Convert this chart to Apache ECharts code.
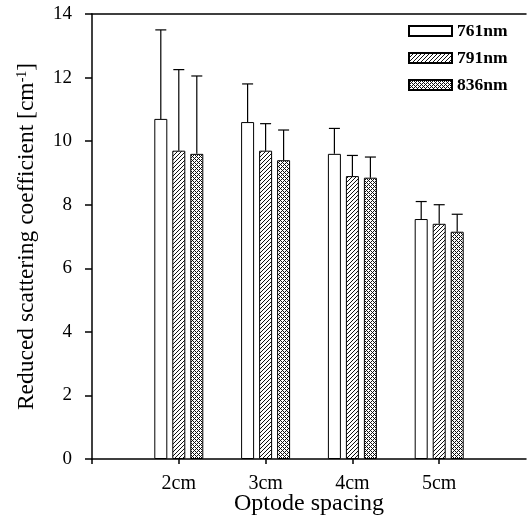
<!DOCTYPE html>
<html>
<head>
<meta charset="utf-8">
<script src="https://cdn.jsdelivr.net/npm/echarts@6/dist/echarts.min.js"></script>
<style>
  html, body { margin: 0; padding: 0; background: #fff; }
  #main { width: 529px; height: 527px; }
</style>
</head>
<body>
<div id="main"></div>
<script>
// categories (empty slots pad the axis on both sides)
let categories = ['', '2cm', '3cm', '4cm', '5cm', ''];
let seriesNames = ['761nm', '791nm', '836nm'];

// mean values per optode spacing
let mean761 = [10.7, 10.6, 9.6, 7.55];
let mean791 = [9.7, 9.7, 8.9, 7.4];
let mean836 = [9.6, 9.4, 8.85, 7.15];

// standard deviation (upper error bar)
let sd761 = [2.8, 1.2, 0.8, 0.55];
let sd791 = [2.55, 0.85, 0.65, 0.6];
let sd836 = [2.45, 0.95, 0.65, 0.55];

let yTicks = [0, 2, 4, 6, 8, 10, 12, 14];

let FONT = '"Liberation Serif", "Times New Roman", serif';

// 填充图案
function makePattern(size, fn) {
    let c = document.createElement('canvas');
    c.width = size; c.height = size;
    let ctx = c.getContext('2d');
    ctx.fillStyle = '#fff';
    ctx.fillRect(0, 0, size, size);
    ctx.fillStyle = '#111';
    for (let x = 0; x < size; x++) {
        for (let y = 0; y < size; y++) {
            if (fn(x, y)) ctx.fillRect(x, y, 1, 1);
        }
    }
    return { image: c, repeat: 'repeat' };
}
let hatch = makePattern(4, (x, y) => (x + y) % 4 === 0);
let cross = makePattern(4, (x, y) => (x + y) % 4 === 0 || (x - y + 4) % 4 === 0);

let fills = ['#fff', hatch, cross];
let means = [mean761, mean791, mean836];
let sds = [sd761, sd791, sd836];

let BAR_W = 13;
let BAR_GAP = 5;

function pad(arr) {
    return [null].concat(arr, [null]);
}

let series = [];
seriesNames.forEach((name, i) => {
    series.push({
        name: name,
        type: 'bar',
        barWidth: BAR_W,
        barGap: (BAR_GAP / BAR_W * 100) + '%',
        data: pad(means[i]),
        itemStyle: {
            color: fills[i],
            borderColor: '#000',
            borderWidth: 1
        },
        z: 2
    });
});

// 误差线 (只画上半部分)
seriesNames.forEach((name, i) => {
    let offset = (i - 1) * (BAR_W + BAR_GAP);
    series.push({
        type: 'custom',
        name: name + '_err',
        z: 3,
        data: means[i].map((m, k) => [k + 1, m, m + sds[i][k]]),
        renderItem: function (params, api) {
            let base = api.coord([api.value(0), api.value(1)]);
            let top = api.coord([api.value(0), api.value(2)]);
            let x = base[0] + offset;
            let style = { stroke: '#000', lineWidth: 1.2 };
            return {
                type: 'group',
                children: [{
                    type: 'line',
                    shape: { x1: x, y1: base[1], x2: x, y2: top[1] },
                    style: style
                }, {
                    type: 'line',
                    shape: { x1: x - 5.5, y1: top[1], x2: x + 5.5, y2: top[1] },
                    style: style
                }]
            };
        }
    });
});

let myChart = echarts.init(document.getElementById('main'));

let option = {
    animation: false,
    backgroundColor: '#fff',
    grid: {
        left: 92,
        right: 0,
        top: 14,
        bottom: 68
    },
    legend: {
        data: seriesNames,
        orient: 'vertical',
        left: 403,
        top: 17,
        icon: 'rect',
        itemWidth: 43,
        itemHeight: 10,
        itemGap: 9,
        textStyle: {
            fontFamily: FONT,
            fontWeight: 'bold',
            fontSize: 17.5,
            color: '#000'
        }
    },
    xAxis: [{
        type: 'category',
        data: categories,
        boundaryGap: false,
        name: 'Optode spacing',
        nameLocation: 'middle',
        nameGap: 33,
        nameMoveOverlap: false,
        nameTextStyle: { fontFamily: FONT, fontSize: 24, color: '#000' },
        axisLine: { lineStyle: { color: '#000', width: 1.5 } },
        axisTick: {
            length: 5,
            interval: function (index) { return index <= 4; },
            lineStyle: { color: '#000', width: 1.5 }
        },
        axisLabel: {
            interval: 0,
            margin: 15,
            fontFamily: FONT,
            fontSize: 20,
            color: '#000'
        },
        splitLine: { show: false }
    }, {
        type: 'category',
        data: categories,
        boundaryGap: false,
        position: 'top',
        axisLine: { lineStyle: { color: '#000', width: 1.5 } },
        axisTick: { show: false },
        axisLabel: { show: false },
        splitLine: { show: false }
    }],
    yAxis: {
        type: 'value',
        min: yTicks[0],
        max: yTicks[yTicks.length - 1],
        interval: 2,
        name: '{a|Reduced scattering coefficient [cm}{s|-1}{a|]}',
        nameLocation: 'middle',
        nameGap: 53,
        nameMoveOverlap: false,
        nameTextStyle: {
            rich: {
                a: { fontFamily: FONT, fontSize: 23.5, color: '#000' },
                s: { fontFamily: FONT, fontSize: 14, color: '#000', verticalAlign: 'top' }
            }
        },
        axisLine: { show: true, lineStyle: { color: '#000', width: 1.5 } },
        axisTick: { show: true, length: 7, lineStyle: { color: '#000', width: 1.5 } },
        axisLabel: {
            margin: 20,
            fontFamily: FONT,
            fontSize: 19,
            color: '#000'
        },
        splitLine: { show: false }
    },
    series: series
};

myChart.setOption(option);
</script>
</body>
</html>
